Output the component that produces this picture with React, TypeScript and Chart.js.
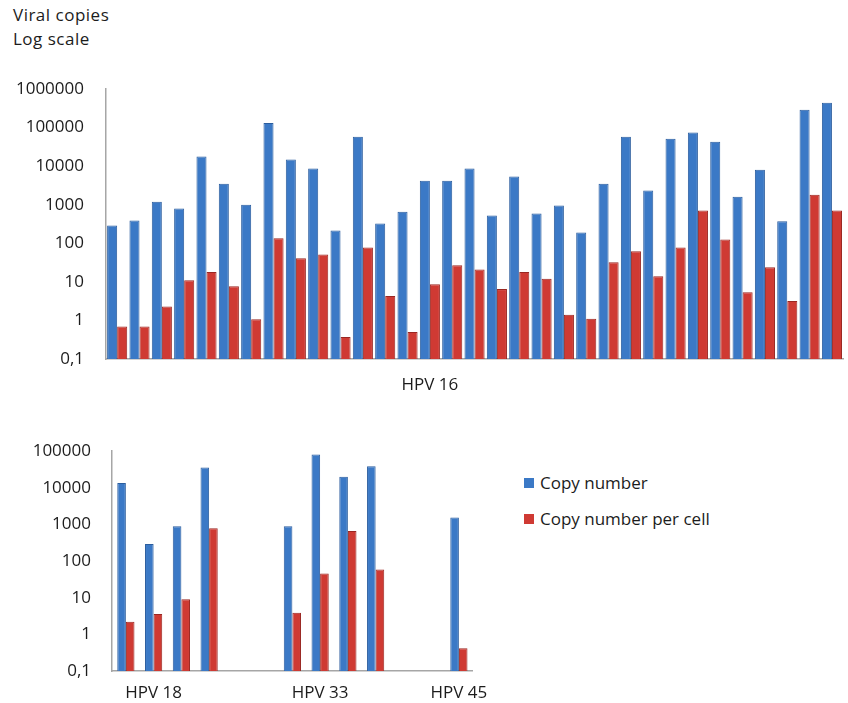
import React, { useEffect, useRef } from 'react';
import { Chart, registerables } from 'chart.js';

Chart.register(...registerables);

// ---------- data ----------
const hpv16Labels = [
  '', '', '', '', '', '', '', '', '', '', '',
  '', '', '', 'HPV 16', '', '', '', '', '', '', '',
  '', '', '', '', '', '', '', '', '', '', '',
];
const hpv16CopyNumber = [
  290, 390, 1200, 800, 17800, 3500, 1000, 132000, 14800, 8700, 215,
  58000, 325, 660, 4200, 4200, 8700, 525, 5400, 590, 950, 190,
  3500, 58000, 2350, 51000, 74000, 43000, 1600, 8100, 370, 290000, 440000,
];
const hpv16PerCell = [
  0.7, 0.7, 2.3, 11, 18, 7.7, 1.07, 135, 41, 51, 0.37,
  78, 4.3, 0.5, 8.7, 27, 21, 6.5, 18, 12, 1.4, 1.1,
  32, 62, 14, 78, 710, 126, 5.4, 24, 3.2, 1800, 710,
];

const otherLabels = ['', 'HPV 18', '', '', '', '', '', 'HPV 33', '', '', '', '', 'HPV 45'];
const otherCopyNumber = [13500, 295, 890, 36000, null, null, 890, 81000, 20000, 39000, null, null, 1550];
const otherPerCell = [2.2, 3.6, 9.1, 790, null, null, 3.9, 46, 660, 59, null, null, 0.42];

const topTicks = [0.1, 1, 10, 100, 1000, 10000, 100000, 1000000];
const bottomTicks = [0.1, 1, 10, 100, 1000, 10000, 100000];

const seriesNames = ['Copy number', 'Copy number per cell'];

// ---------- style ----------
const BLUE = '#3b79c6';
const BLUE_EDGE = '#2b5d9e';
const RED = '#cf3a33';
const RED_EDGE = '#9a2722';
const AXIS = '#a6a6a6';
const TEXT = '#1c1c1c';
const FONT = '"Open Sans", "DejaVu Sans", sans-serif';

const fmt = (v: number) => (v < 1 ? String(v).replace('.', ',') : String(v));

type Props = {
  labels: string[];
  a: (number | null)[];
  b: (number | null)[];
  ticks: number[];
  yMax: number;
  width: number;
  height: number;
  yAxisWidth: number;
  xAxisHeight: number;
  padTop: number;
  padRight: number;
  tickPad: number;
  xTickPad: number;
  catPct: number;
};

function BarChart(p: Props) {
  const ref = useRef<HTMLCanvasElement | null>(null);
  useEffect(() => {
    if (!ref.current) return;
    const chart = new Chart(ref.current, {
      type: 'bar',
      data: {
        labels: p.labels,
        datasets: [
          {
            label: seriesNames[0],
            data: p.a as any,
            backgroundColor: BLUE,
            borderColor: BLUE_EDGE,
            borderWidth: 1,
            barPercentage: 1,
            categoryPercentage: p.catPct,
          },
          {
            label: seriesNames[1],
            data: p.b as any,
            backgroundColor: RED,
            borderColor: RED_EDGE,
            borderWidth: 1,
            barPercentage: 1,
            categoryPercentage: p.catPct,
          },
        ],
      },
      options: {
        animation: false,
        responsive: false,
        maintainAspectRatio: false,
        layout: { padding: { top: p.padTop, right: p.padRight, left: 0, bottom: 0 } },
        plugins: { legend: { display: false }, tooltip: { enabled: false }, title: { display: false } },
        scales: {
          x: {
            type: 'category',
            offset: true,
            grid: { display: false, drawTicks: false },
            border: { display: true, color: AXIS, width: 1.5 },
            ticks: {
              autoSkip: false,
              maxRotation: 0,
              padding: p.xTickPad,
              color: TEXT,
              font: { family: FONT, size: 17 },
            },
            afterFit: (s: any) => {
              s.height = p.xAxisHeight;
            },
          },
          y: {
            type: 'logarithmic',
            min: 0.1,
            max: p.yMax,
            grid: { display: false, drawTicks: false },
            border: { display: true, color: AXIS, width: 1.5 },
            afterBuildTicks: (s: any) => {
              s.ticks = p.ticks.map((v) => ({ value: v }));
            },
            ticks: {
              padding: p.tickPad,
              color: TEXT,
              font: { family: FONT, size: 17 },
              callback: (v: any) => fmt(Number(v)),
            },
            afterFit: (s: any) => {
              s.width = p.yAxisWidth;
            },
          },
        },
      },
    });
    return () => chart.destroy();
  }, []);
  return <canvas ref={ref} width={p.width} height={p.height} style={{ display: 'block', width: p.width, height: p.height }} />;
}

export default function App() {
  return (
    <div style={{ position: 'absolute', left: 0, top: 0, width: 848, height: 703, background: '#fff', overflow: 'hidden', fontFamily: FONT, color: TEXT }}>
      <div style={{ position: 'absolute', left: 13, top: 3, fontSize: 17, lineHeight: '24px', letterSpacing: 0.5 }}>
        <div>Viral copies</div>
        <div>Log scale</div>
      </div>
      <div style={{ position: 'absolute', left: 0, top: 0 }}>
        <BarChart
          labels={hpv16Labels}
          a={hpv16CopyNumber}
          b={hpv16PerCell}
          ticks={topTicks}
          yMax={1000000}
          width={848}
          height={410}
          yAxisWidth={106}
          xAxisHeight={51}
          padTop={89}
          padRight={4}
          tickPad={22}
          xTickPad={16}
          catPct={0.9}
        />
      </div>
      <div style={{ position: 'absolute', left: 0, top: 420 }}>
        <BarChart
          labels={otherLabels}
          a={otherCopyNumber}
          b={otherPerCell}
          ticks={bottomTicks}
          yMax={100000}
          width={500}
          height={283}
          yAxisWidth={112}
          xAxisHeight={32}
          padTop={28}
          padRight={19}
          tickPad={21}
          xTickPad={12}
          catPct={0.62}
        />
      </div>
      <div style={{ position: 'absolute', left: 524, top: 471, fontSize: 17, lineHeight: '24px' }}>
        {seriesNames.map((n, i) => (
          <div key={n} style={{ display: 'flex', alignItems: 'center', height: 24, marginBottom: 12 }}>
            <span style={{ display: 'inline-block', width: 10, height: 10, background: i === 0 ? BLUE : RED, marginRight: 6 }} />
            <span>{n}</span>
          </div>
        ))}
      </div>
    </div>
  );
}
